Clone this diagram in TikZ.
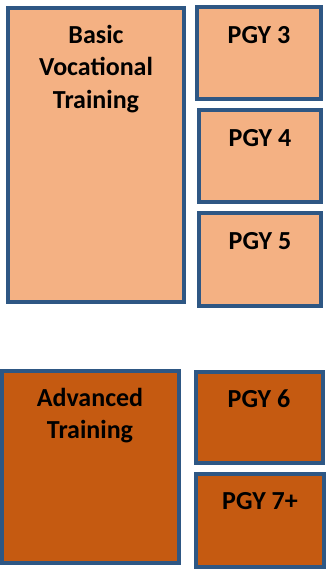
\documentclass[tikz,border=0pt]{standalone}
\usepackage{fontspec}
\setmainfont{Carlito}
\definecolor{edge}{RGB}{46,87,132}
\definecolor{light}{RGB}{244,177,131}
\definecolor{dark}{RGB}{197,90,17}
\tikzset{
  pane/.style={draw=edge,line width=3.2pt},
  lbl/.style={anchor=base,align=center,font=\bfseries\fontsize{26}{32.5}\selectfont}
}
\begin{document}
\begin{tikzpicture}[x=1pt,y=-1pt]
  \useasboundingbox (0,0) rectangle (326,573);
  \draw[pane,fill=light] (8,8) rectangle (184,302);
  \draw[pane,fill=light] (197,7) rectangle (321,99);
  \draw[pane,fill=light] (199,110) rectangle (321,202);
  \draw[pane,fill=light] (199,213) rectangle (321,306);
  % base of a multi-line label is its last line
  \node[lbl] (basic) at (96,108) {Basic\\Vocational\\Training};
  \node[lbl] (pgy3) at (259,43) {PGY 3};
  \node[lbl] (pgy4) at (260,146) {PGY 4};
  \node[lbl] (pgy5) at (260,249) {PGY 5};
  \draw[pane,fill=dark] (2,371) rectangle (179,563);
  \draw[pane,fill=dark] (196,372) rectangle (323,463);
  \draw[pane,fill=dark] (196,474) rectangle (324,567);
  \node[lbl] (adv) at (90,438.5) {Advanced\\Training};
  \node[lbl] (pgy6) at (259,407) {PGY 6};
  \node[lbl] (pgy7) at (260,509) {PGY 7+};
\end{tikzpicture}
\end{document}
